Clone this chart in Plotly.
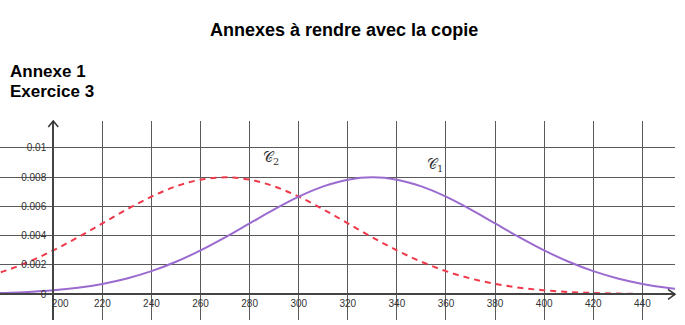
import plotly.graph_objects as go

# Data
x_vals = [170, 180, 190, 200, 210, 220, 230, 240, 250, 260, 270, 280, 290, 300, 310,
          320, 330, 340, 350, 360, 370, 380, 390, 400, 410, 420, 430, 440, 450, 460]
c1_vals = [0.0000477, 0.0000887, 0.000158, 0.000272, 0.000448, 0.000709, 0.001080,
           0.001579, 0.002218, 0.002995, 0.003884, 0.004839, 0.005794, 0.006664,
           0.007365, 0.007821, 0.007979, 0.007821, 0.007365, 0.006664, 0.005794,
           0.004839, 0.003884, 0.002995, 0.002218, 0.001579, 0.001080, 0.000709,
           0.000448, 0.000272]
c2_vals = [0.001080, 0.001579, 0.002218, 0.002995, 0.003884, 0.004839, 0.005794,
           0.006664, 0.007365, 0.007821, 0.007979, 0.007821, 0.007365, 0.006664,
           0.005794, 0.004839, 0.003884, 0.002995, 0.002218, 0.001579, 0.001080,
           0.000709, 0.000448, 0.000272, 0.000158, 0.0000887, 0.0000477, 0.0000247,
           0.0000122, 0.0000058]
x_ticks = [200, 220, 240, 260, 280, 300, 320, 340, 360, 380, 400, 420, 440]
x_ticktext = ["\u00a0\u00a0\u00a0\u00a0\u00a0200"] + [str(v) for v in x_ticks[1:]]
y_ticks = [0, 0.002, 0.004, 0.006, 0.008, 0.01]
y_ticktext = ["0", "0.002", "0.004", "0.006", "0.008", "0.01"]

W, H = 685, 325
ml, mr, mt, mb = 0, 10, 121, 5
x_range = [178.3, 453.3]
y_range = [-0.001754, 0.011823]

fig = go.Figure()
fig.add_trace(go.Scatter(x=x_vals, y=c2_vals, mode="lines", line_shape="spline",
                         line=dict(color="#f0384a", width=2, dash="6px,5px"),
                         showlegend=False, hoverinfo="skip"))
fig.add_trace(go.Scatter(x=x_vals, y=c1_vals, mode="lines", line_shape="spline",
                         line=dict(color="#9b6bd0", width=2),
                         showlegend=False, hoverinfo="skip"))

grid_col = "#5a5a5a"
x0_pos = (0 - y_range[0]) / (y_range[1] - y_range[0])
y0_pos = (200 - x_range[0]) / (x_range[1] - x_range[0])

fig.update_layout(
    width=W, height=H,
    margin=dict(l=ml, r=mr, t=mt, b=mb),
    paper_bgcolor="white", plot_bgcolor="white",
    font=dict(family="Liberation Sans, Arial, sans-serif", color="#333"),
    xaxis=dict(range=x_range, tickvals=x_ticks, ticktext=x_ticktext,
               showgrid=True, gridcolor=grid_col, gridwidth=1,
               zeroline=False, showline=True, linecolor="#444", linewidth=2,
               anchor="free", position=x0_pos, ticks="",
               tickfont=dict(size=10, color="#333")),
    yaxis=dict(range=y_range, tickvals=y_ticks, ticktext=y_ticktext,
               showgrid=True, gridcolor=grid_col, gridwidth=1,
               zeroline=False, showline=True, linecolor="#444", linewidth=2,
               anchor="free", position=y0_pos, ticks="", ticklabelstandoff=4,
               tickfont=dict(size=10, color="#333")),
)

# Arrowheads on axes
fig.add_shape(type="path", xref="paper", yref="paper",
              path=f"M {1 - 7/675} {x0_pos + 5/199} L 1 {x0_pos} L {1 - 7/675} {x0_pos - 5/199}",
              line=dict(color="#333", width=1.5))
fig.add_shape(type="path", xref="paper", yref="paper",
              path=f"M {y0_pos - 5/675} {1 - 6/199} L {y0_pos} 1 L {y0_pos + 5/675} {1 - 6/199}",
              line=dict(color="#333", width=1.5))

# Curve labels
fig.add_annotation(x=288.6, y=0.0093, text="𝒞<sub>2</sub>", showarrow=False,
                   font=dict(family="DejaVu Serif, serif", size=14, color="#333"))
fig.add_annotation(x=355.5, y=0.00883, text="𝒞<sub>1</sub>", showarrow=False,
                   font=dict(family="DejaVu Serif, serif", size=14, color="#333"))

# Titles
title_font = "Liberation Sans, Arial, sans-serif"
fig.add_annotation(xref="paper", yref="paper", x=(344 - ml) / (W - ml - mr),
                   y=1 + (mt - 30) / (H - mt - mb), text="<b>Annexes à rendre avec la copie</b>",
                   showarrow=False, xanchor="center", yanchor="middle",
                   font=dict(family=title_font, size=18, color="black"))
fig.add_annotation(xref="paper", yref="paper", x=8 / (W - ml - mr),
                   y=1 + (mt - 72) / (H - mt - mb), text="<b>Annexe 1</b>",
                   showarrow=False, xanchor="left", yanchor="middle",
                   font=dict(family=title_font, size=17, color="black"))
fig.add_annotation(xref="paper", yref="paper", x=8 / (W - ml - mr),
                   y=1 + (mt - 92) / (H - mt - mb), text="<b>Exercice 3</b>",
                   showarrow=False, xanchor="left", yanchor="middle",
                   font=dict(family=title_font, size=17, color="black"))

fig.write_html("out.html")
